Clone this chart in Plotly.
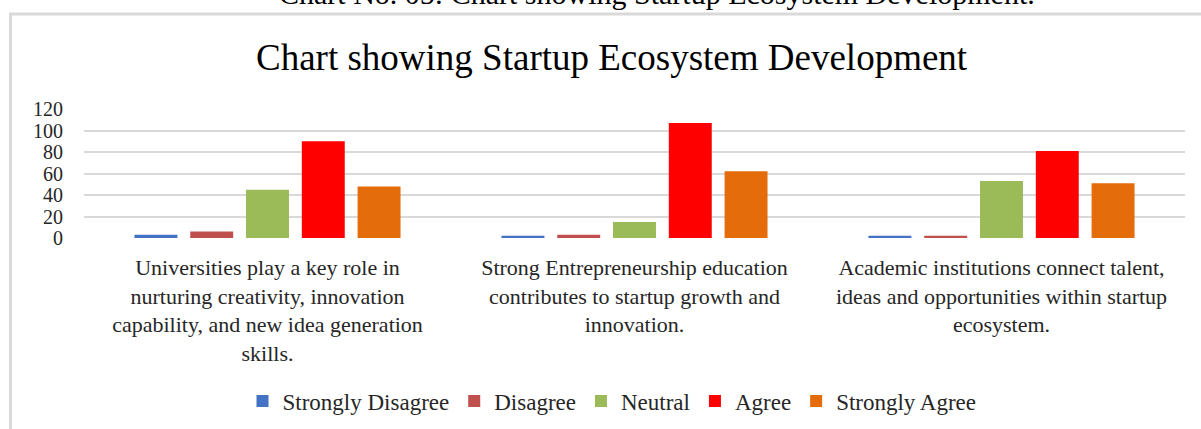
import plotly.graph_objects as go

categories = [
    "Universities play a key role in<br>nurturing creativity, innovation<br>capability, and new idea generation<br>skills.",
    "Strong Entrepreneurship education<br>contributes to startup growth and<br>innovation.",
    "Academic institutions connect talent,<br>ideas and opportunities within startup<br>ecosystem.",
]
series_names = ["Strongly Disagree", "Disagree", "Neutral", "Agree", "Strongly Agree"]
strongly_disagree = [3, 2, 2]
disagree = [6, 3, 2]
neutral = [45, 15, 53]
agree = [90, 107, 81]
strongly_agree = [48, 62, 51]
y_ticks = [0, 20, 40, 60, 80, 100, 120]

series_values = [strongly_disagree, disagree, neutral, agree, strongly_agree]
colors = ["#4472C4", "#C0504D", "#9BBB59", "#FF0000", "#E46C0A"]

W, H = 1201, 429
L, R, T, B = 84, 16, 109, 191
PW = W - L - R
PH = H - T - B

def px_to_paper_x(px):
    return (px - L) / PW

def px_to_paper_y(py):
    return (H - B - py) / PH

serif = "Liberation Serif, Times New Roman, serif"

fig = go.Figure()
for name, vals, col in zip(series_names, series_values, colors):
    fig.add_trace(go.Bar(name=name, x=categories, y=vals, marker_color=col,
                         marker_line_width=0))

fig.update_layout(
    width=W, height=H,
    margin=dict(l=L, r=R, t=T, b=B, autoexpand=False),
    paper_bgcolor="white", plot_bgcolor="white",
    barmode="group", bargap=0.24, bargroupgap=0.23,
    font=dict(family=serif, color="#000000", size=20),
    showlegend=True,
    legend=dict(orientation="h", x=px_to_paper_x(612), xanchor="center",
                y=px_to_paper_y(401), yanchor="middle",
                font=dict(family=serif, size=23, color="#262626"),
                itemwidth=30, traceorder="normal"),
    annotations=[
        dict(text="Chart showing Startup Ecosystem Development", xref="paper", yref="paper",
             x=px_to_paper_x(612), y=px_to_paper_y(58), xanchor="center", yanchor="middle",
             showarrow=False, font=dict(family=serif, size=37, color="#000000")),
        dict(text="Chart No. 05: Chart showing Startup Ecosystem Development.", xref="paper", yref="paper",
             x=px_to_paper_x(657), y=px_to_paper_y(12), xanchor="center", yanchor="bottom",
             showarrow=False, font=dict(family=serif, size=30, color="#000000")),
    ],
    shapes=[
        dict(type="rect", xref="paper", yref="paper",
             x0=px_to_paper_x(10.5), x1=px_to_paper_x(1230),
             y0=px_to_paper_y(460), y1=px_to_paper_y(14),
             line=dict(color="#D9D9D9", width=3), fillcolor="rgba(0,0,0,0)", layer="below"),
    ],
)
fig.update_yaxes(range=[0, 120], tickvals=y_ticks, showgrid=True, gridcolor="#D9D9D9",
                 gridwidth=2, zeroline=False, showline=False, ticks="",
                 ticklabelstandoff=20, tickfont=dict(family=serif, size=20, color="#262626"))
fig.update_xaxes(showgrid=False, showline=False, ticks="", ticklabelstandoff=14,
                 tickfont=dict(family=serif, size=22, color="#262626"), tickangle=0)

fig.write_html("out.html")
